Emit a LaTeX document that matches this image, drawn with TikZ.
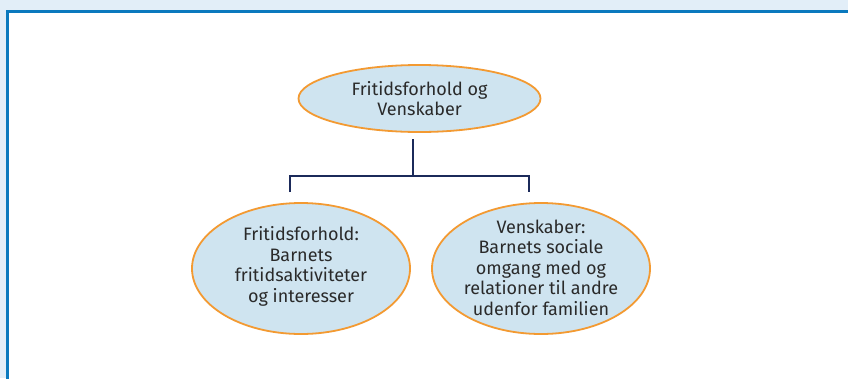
\documentclass[tikz,border=0pt]{standalone}
\usepackage{fontspec}
\setmainfont{Fira Sans}
\usetikzlibrary{shapes.geometric}
\definecolor{bandblue}{HTML}{E2EEF8}
\definecolor{framblue}{HTML}{0A79BE}
\definecolor{bubblefill}{HTML}{CFE4F0}
\definecolor{bubbleline}{HTML}{F39A32}
\definecolor{linknavy}{HTML}{1B2A5A}
\definecolor{inktext}{HTML}{2A2A2A}
\tikzset{
  bubble/.style={ellipse, draw=bubbleline, fill=bubblefill, line width=1.8pt, inner sep=0pt},
  caption/.style={align=center, text=inktext, font=\fontsize{18}{20.5}\selectfont, inner sep=0pt},
  link/.style={draw=linknavy, line width=2pt},
  frameline/.style={draw=framblue, line width=2.4pt},
}
\begin{document}
\begin{tikzpicture}[x=1pt, y=-1pt]
  % canvas and page frame
  \useasboundingbox (0,0) rectangle (848,378);
  \fill[white] (0,0) rectangle (848,378);
  \fill[bandblue] (0,0) rectangle (848,10.5);
  \fill[bandblue] (0,0) rectangle (6.5,378);
  \draw[frameline] (7.5,379) -- (7.5,11.5) -- (849,11.5);

  % ellipses
  \node[bubble, minimum width=242pt, minimum height=67pt] (top) at (419.5,98.5) {};
  \node[caption] at (top.center) {Fritidsforhold og\\Venskaber};

  \node[bubble, minimum width=218pt, minimum height=131pt] (left) at (301,268.5) {};
  \node[caption] at ([yshift=2pt]left.center) {Fritidsforhold:\\Barnets\\fritidsaktiviteter\\og interesser};

  \node[bubble, minimum width=218pt, minimum height=131pt] (right) at (541,268.5) {};
  \node[caption] at ([yshift=1pt]right.center) {Venskaber:\\Barnets sociale\\omgang med og\\relationer til andre\\udenfor familien};

  % tree connector
  \coordinate (hub) at (413,176);
  \coordinate (lend) at (290,192);
  \coordinate (rend) at (529,192);
  \draw[link] (413,139) -- (hub);
  \draw[link] (lend) |- (hub) -| (rend);
\end{tikzpicture}
\end{document}
